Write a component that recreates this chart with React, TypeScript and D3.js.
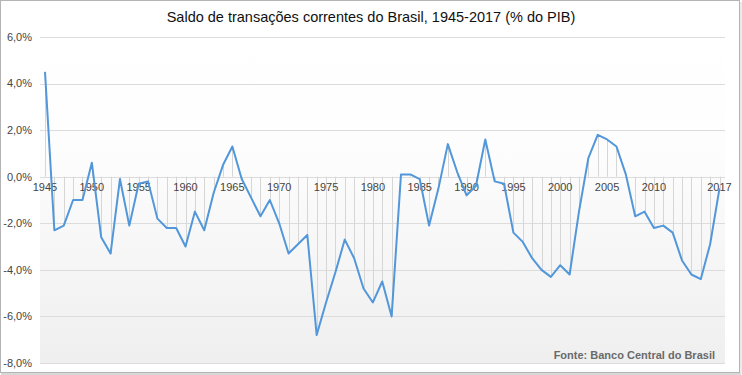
import React from 'react';
import * as d3 from 'd3';

const years: number[] = d3.range(1945, 2018);

const saldo: number[] = [
  4.5, -2.3, -2.1, -1.0, -1.0, 0.6, -2.6, -3.3, -0.1, -2.1,
  -0.3, -0.2, -1.8, -2.2, -2.2, -3.0, -1.5, -2.3, -0.7, 0.5,
  1.3, -0.1, -0.9, -1.7, -1.0, -2.0, -3.3, -2.9, -2.5, -6.8,
  -5.4, -4.1, -2.7, -3.5, -4.8, -5.4, -4.5, -6.0, 0.1, 0.1,
  -0.1, -2.1, -0.5, 1.4, 0.2, -0.8, -0.4, 1.6, -0.2, -0.3,
  -2.4, -2.8, -3.5, -4.0, -4.3, -3.8, -4.2, -1.5, 0.8, 1.8,
  1.6, 1.3, 0.1, -1.7, -1.5, -2.2, -2.1, -2.4, -3.6, -4.2,
  -4.4, -2.9, -0.5,
];

const yTicks: number[] = [6, 4, 2, 0, -2, -4, -6, -8];
const xTickYears: number[] = [1945, 1950, 1955, 1960, 1965, 1970, 1975, 1980, 1985, 1990, 1995, 2000, 2005, 2010, 2017];

const title = 'Saldo de transações correntes do Brasil, 1945-2017 (% do PIB)';
const source = 'Fonte: Banco Central do Brasil';

const width = 742;
const height = 375;
const plot = { left: 40, right: 725, top: 37, bottom: 363 };
const font = '"Liberation Sans", Arial, sans-serif';

export default function App() {
  const x = d3.scaleLinear().domain([1945, 2017]).range([45, 719.5]);
  const y = d3.scaleLinear().domain([-8, 6]).range([plot.bottom, plot.top]);

  const data = years.map((yr, i) => ({ yr, v: saldo[i] }));
  const line = d3
    .line<{ yr: number; v: number }>()
    .x((d) => x(d.yr))
    .y((d) => y(d.v));

  const fmt = (v: number) => `${v.toFixed(1).replace('.', ',')}%`;

  return (
    <>
      <style>{`body{margin:0}`}</style>
      <svg width={width} height={height} style={{ display: 'block', fontFamily: font }}>
        <defs>
          <linearGradient id="bg" x1="0" y1="0" x2="0" y2="1">
            <stop offset="0%" stopColor="#ffffff" />
            <stop offset="35%" stopColor="#fdfdfd" />
            <stop offset="100%" stopColor="#efefef" />
          </linearGradient>
        </defs>
        <rect x={0} y={0} width={width} height={height} fill="#ffffff" />
        <rect x={0.5} y={0.5} width={739} height={372} fill="#ffffff" stroke="#b4b4b4" />
        <line x1={1} x2={741} y1={374} y2={374} stroke="#d8d8d8" strokeWidth={2} />
        <line x1={741} x2={741} y1={2} y2={374} stroke="#e4e4e4" strokeWidth={1.5} />

        <rect
          x={plot.left}
          y={plot.top}
          width={plot.right - plot.left}
          height={plot.bottom - plot.top}
          fill="url(#bg)"
        />

        {yTicks.map((t) => (
          <g key={t}>
            <line
              x1={plot.left}
              x2={plot.right}
              y1={Math.round(y(t)) + 0.5}
              y2={Math.round(y(t)) + 0.5}
              stroke="#dcdcdc"
            />
            <text
              x={32}
              y={y(t)}
              dy="0.35em"
              textAnchor="end"
              fontSize={11}
              fill="#444"
            >
              {fmt(t)}
            </text>
          </g>
        ))}

        {data.map((d) => (
          <line
            key={d.yr}
            x1={Math.round(x(d.yr)) + 0.5}
            x2={Math.round(x(d.yr)) + 0.5}
            y1={y(0)}
            y2={y(d.v)}
            stroke="#d6d6d6"
            strokeWidth={1}
          />
        ))}

        {xTickYears.map((t) => (
          <text
            key={t}
            x={x(t)}
            y={y(0) + 14}
            textAnchor="middle"
            fontSize={11}
            fill="#444"
          >
            {t}
          </text>
        ))}

        <path
          d={line(data) ?? ''}
          fill="none"
          stroke="#5197da"
          strokeWidth={2}
          strokeLinejoin="round"
        />

        <text x={width / 2} y={22} textAnchor="middle" fontSize={14.5} fill="#111">
          {title}
        </text>

        <text x={715} y={359} textAnchor="end" fontSize={11} fontWeight="bold" fill="#6a6a6a">
          {source}
        </text>
      </svg>
    </>
  );
}
